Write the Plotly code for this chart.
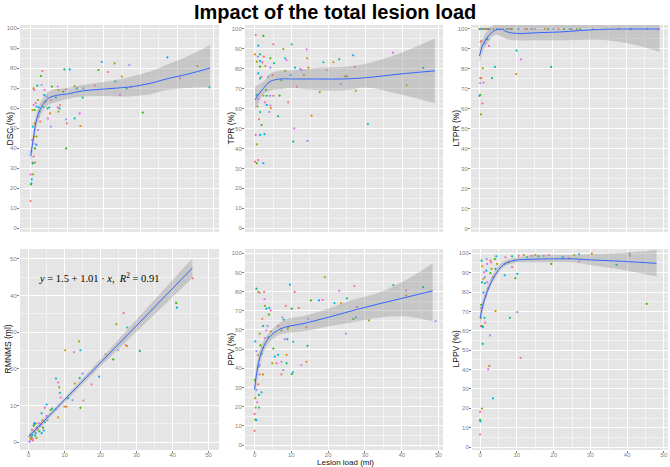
import plotly.graph_objects as go

TITLE = "Impact of the total lesion load"
X_TITLE = "Lesion load (ml)"
FORMULA = "<i>y</i> = 1.5 + 1.01 · <i>x</i>,  <i>R</i><sup>2</sup> = 0.91"
PALETTE = ["#F8766D", "#D89000", "#A3A500", "#39B600", "#00BF7D",
           "#00BFC4", "#00B0F6", "#9590FF", "#E76BF3", "#FF62BC"]

# ---------------- DSC ----------------
dsc_pts = [(0.0,13.5),(0.1,21.8),(0.3,24.3),(0.0,26.8),(0.7,26.8),(0.2,22.3),(0.5,32.7),(1.2,32.7),
           (0.6,32.3),(0.2,38.2),(0.8,35.7),(1.2,39.8),(1.6,41.5),(0.4,44),(1.6,45.7),(0.6,50.7),
           (2.0,49),(1.1,52.3),(2.5,58.2),(2.2,55.7),(2.6,53.2),(1.1,59),(1.6,60.7),(0.8,61.5),
           (2.0,64),(2.2,60.3),(1.0,69),(0.8,69.8),(1.8,71.2),(3.0,71.5),(3.2,78.5),(2.8,76),
           (3.7,66.5),(3.8,69),(4.1,63.2),(4.6,59.8),(4.7,54.8),(5.3,57.3),(5.1,60.3),(5.5,50.7),
           (5.6,64),(5.8,70.7),(6.9,65.3),(7.4,60.3),(7.6,58.2),(7.9,59.8),(7.4,70.7),(7.6,69),
           (9.2,79.3),(9.7,54.3),(9.9,52.3),(9.7,39.8),(10.7,79.3),(9.6,69.3),(12.0,71),(12.0,54.8),
           (13.4,57.3),(13.6,51),(14.2,65.2),(14.4,69.8),(17.5,71.2),(18.5,79),(19.4,83),(21.2,78),
           (22.9,82.3),(23.1,73.2),(24.4,66.5),(24.9,75.7),(26.2,69.8),(26.9,81.5),(27.3,70.3),
           (30.6,57.7),(37.3,85.3),(40.8,74.8),(45.5,81),(48.8,70.3),(1.3,42),(0.9,45.7),(3.5,60.5),
           (4.4,65.7),(8.0,61.5),(8.9,68.2),(12.6,69.8),(1.4,62.5),(0.5,59)]
dsc_fit_x = [0, 0.7, 1.6, 3, 4.8, 7, 10, 14, 20, 27, 33, 37, 43, 49]
dsc_fit = [36, 44, 54, 60.7, 64.8, 66.3, 67, 68.5, 69.5, 70.5, 72.5, 74.5, 77, 80]
dsc_lo = [32, 41, 50.5, 57.5, 61.5, 63, 64.5, 65.7, 66, 65.8, 67, 69, 70, 70.5]
dsc_hi = [40, 47, 57.5, 64, 68, 69.6, 70, 71.5, 73, 75.5, 78.5, 81.5, 86, 91.5]

# ---------------- TPR ----------------
tpr_pts = [(0.2,97),(2.3,96.5),(0.9,91.6),(5.0,92.3),(7.7,89.9),(10.0,92.3),(14.1,89.8),(0.0,87.3),
           (1.4,87.3),(0.8,86.1),(2.4,86.1),(4.2,85.3),(1.4,83.9),(2.0,83.2),(0.5,83.6),(8.2,85.3),
           (8.6,84.4),(14.2,85.3),(5.2,82.8),(4.2,80.6),(2.8,81.4),(1.4,81.1),(0.9,77.7),(1.8,76),
           (8.2,78.9),(10.9,80.6),(12.3,80),(14.5,80.6),(1.4,75.2),(3.6,76),(4.8,76.8),(7.2,74.3),
           (9.7,76.8),(11.4,71),(13.3,76.9),(0.5,66.9),(0.9,64.9),(2.3,66.6),(3.2,66.5),(4.1,66.5),
           (5.0,66.5),(6.7,66.6),(3.2,61.9),(2.7,63.2),(0.7,61.1),(1.4,58.3),(4.2,61.6),(4.3,60.3),
           (6.3,56.2),(3.9,58.3),(1.1,54.7),(1.8,51.8),(1.4,46.8),(0.2,46.8),(0.5,42.1),(2.6,47.2),
           (10.7,50.1),(15.4,56.5),(10.4,43.5),(14.3,43.8),(0.0,33.4),(0.5,32.6),(2.3,32.6),(0.9,34.2),
           (17.6,68.3),(18.6,83.3),(19.5,79.4),(21.3,83.3),(22.9,84.8),(23.3,72.3),(24.4,76.2),
           (24.9,76.2),(26.7,86.8),(27.1,81),(27.4,69),(30.7,52.3),(37.5,88.1),(41.2,71.7),(45.7,80.5),
           (12.7,79.4),(9.0,63.2),(3.0,69.5)]
tpr_fit_x = [0, 0.9, 2.3, 4.1, 6.8, 10, 17.6, 24, 30.4, 39.4, 48.9]
tpr_fit = [64.4, 66.9, 70.2, 73.6, 74.9, 74.9, 74.9, 74.9, 75.6, 77.4, 79]
tpr_lo = [59.4, 62.5, 67.2, 69, 69.7, 70.2, 69.2, 69.2, 70.5, 67.2, 62.7]
tpr_hi = [70.7, 72, 73.5, 77.5, 79, 79.3, 80.5, 81, 82.7, 87.8, 95.3]

# ---------------- LTPR ----------------
ltpr_full_x = [0, 0.3, 0.6, 0.9, 1.1, 1.3, 1.5, 1.8, 2.0, 2.2, 2.4, 2.7, 2.9, 3.8, 4.7, 5.6, 6.5,
               7.4, 7.9, 8.3, 8.8, 10.6, 12.4, 13.0, 14.2, 15.1, 17.8, 18.7, 20.1, 21.5, 23.0, 24.6,
               25.1, 26.5, 27.4, 30.9, 37.9, 41.2, 45.7, 48.7]
ltpr_full_y = [100] * len(ltpr_full_x)
ltpr_pts = [(0.5,94),(1.8,94.6),(2.2,94.9),(2.6,91.5),(0.9,80.3),(4.2,81),(0.2,75.4),(0.5,75.4),
            (3.4,75.4),(0.2,72.9),(1.1,73.2),(0.2,67),(0.0,66.5),(0.8,62.7),(0.4,57.2),(10.1,89.2),
            (11.3,84.8),(10.0,77.4),(19.5,81),(1.5,92.8),(0.3,93.5)]
ltpr_fit_x = [0, 0.9, 2.3, 4.1, 5.9, 7.3, 10, 16.4, 21.8, 27.3, 34.5, 43.6, 49]
ltpr_fit = [86.5, 92, 96.2, 99.2, 99.9, 98.7, 97.8, 98.2, 98.5, 99.2, 99.9, 100, 100]
ltpr_lo = [82.8, 88.7, 93, 97, 96.5, 95, 94.3, 94.3, 94.3, 94.5, 94.3, 91.5, 88.5]
ltpr_hi = [91, 94.9, 99.6, 102.1, 103, 103, 103, 103, 103, 103, 104, 106, 110]

# ---------------- RMNMS ----------------
rm_pts = [(45.6,44.7),(41.0,38),(41.2,36.7),(26.4,35.2),(24.4,32.2),(27.4,31.3),(27.0,26.5),
          (27.3,26.2),(30.9,24.9),(24.9,25.1),(21.4,24.0),(23.5,22.6),(19.6,17.9),(17.5,15.8),
          (14.0,27.5),(14.4,25.1),(12.6,24.6),(10.1,25.1),(14.2,17.5),(15.0,18.7),(15.2,11.4),
          (14.4,9.4),(7.6,17.4),(8.2,16.3),(8.5,15.0),(8.7,13.5),(8.9,12.2),(8.2,6.8),(11.0,12.0),
          (12.2,11.5),(9.9,9.7),(6.1,8.8),(5.0,10.3),(4.5,9.4),(10.5,9.7),(3.6,7.9),(5.0,7.2),
          (2.0,5.1),(1.5,5.0),(0.3,0.3),(0.5,1),(0.8,1.5),(1,2),(1.2,0.5),(1.5,3),(2,2.5),(2.3,4),
          (2.5,3.5),(3,3),(3.2,4.5),(3.5,5),(4,4),(4.2,3.2),(1.1,1),(0.7,0.8),(1.8,1.8),(2.8,5.2),
          (3.8,6),(4.5,5.5),(5.2,6),(0.4,2),(1.4,4.5),(1.7,5.2),(0.9,3.4),(2.2,1.2),(3.6,2.5),
          (0.2,0.1),(12.8,16.0),(6.5,9.2),(7.5,9.0)]
rm_fit_x = [0, 45.5]
rm_fit = [1.5, 47.5]
rm_band_x = [0, 8, 20, 30, 40, 45.5]
rm_lo = [0.7, 8.9, 20.7, 30.1, 39.6, 44.8]
rm_hi = [2.3, 10.1, 22.7, 33.5, 44.2, 50.2]

# ---------------- PPV ----------------
ppv_pts = [(0,7.4),(0.2,13.2),(0.5,13),(0,16.2),(0.3,19.5),(1.2,19.5),(0.7,22.3),(0.2,24.4),
           (1.2,26.1),(0.5,28.7),(1.0,31.6),(0.1,33.9),(1.9,27.5),(1.4,36.8),(2.3,36.8),(1.1,40.8),
           (1.4,41.7),(0.9,46.9),(1.9,47.7),(0.5,49),(2.3,50.7),(1.6,52),(0.2,54),(2.8,55.8),
           (1.4,58),(3.7,56.3),(3.2,59.8),(4.4,59.3),(2.3,62),(3.5,62),(2.1,65.8),(3.9,68),
           (3.2,71.1),(4.4,70.2),(2.8,72.5),(4.0,71.5),(2.7,76),(1.0,79.8),(0.5,81.5),(1.4,79.4),
           (2.6,79.8),(5.1,50.3),(5.5,46.1),(6.0,42.6),(4.8,42.6),(6.4,47),(7.3,43.4),(8.7,47),
           (8.7,42.6),(7.8,39.1),(7.3,36.8),(10.1,37),(10.4,37.9),(6.4,62),(7.3,59.8),(8.9,55.2),
           (8.2,55.2),(9.1,61.3),(7.9,65.3),(7.6,66.5),(8.5,72.5),(10.1,71.1),(9.6,83.6),
           (10.9,79.8),(9.0,60.5),(10.5,53.8),(12.7,41.7),(14.1,43.4),(14.4,51.7),(14.6,65.8),
           (14.1,61.3),(15.3,75.4),(17.5,75.4),(18.5,75.7),(19.1,87.6),(21.7,74),(23.0,80.4),
           (23.5,74),(25.1,76.5),(24.8,58.1),(27.1,82.9),(26.8,65.7),(27.5,66.6),(27.8,71.9),
           (31.1,65),(37.7,83.4),(41.2,80.6),(41.2,77.9),(45.8,82.3),(49.2,64.6),(12.0,71.5)]
ppv_fit_x = [0, 0.6, 1.8, 3.6, 5.9, 8.6, 13.2, 20.4, 26.7, 34, 41.2, 48.4]
ppv_fit = [29, 37.9, 48.1, 55.2, 59.4, 61.6, 63.3, 66.8, 70.1, 73.7, 77, 80.4]
ppv_lo = [22.3, 32, 44.6, 52.4, 56.7, 58.4, 59.3, 61.9, 64, 66.5, 67, 64.5]
ppv_hi = [34.2, 42.5, 51.6, 57.6, 62.3, 65.7, 67.1, 71.4, 75.7, 79.6, 86.2, 94.8]

# ---------------- LPPV ----------------
lppv_pts = [(0,6.5),(0,14),(0.1,13.2),(0,18.2),(0.5,19.9),(3.5,25.1),(2.2,40.1),(2.5,41.9),
            (0.7,53.3),(2.7,57.6),(0.2,62.4),(0.5,62.4),(0.8,61.9),(1.4,64.2),(0.2,66.7),
            (1.2,66.7),(0.3,71.7),(4.2,70.1),(8.1,66.7),(10.1,69.6),(11.0,46),(0.3,73.4),(0.9,79.7),
            (1.6,78),(2.2,81.9),(1.3,84.5),(1.9,85),(0.9,86.8),(0.5,85),(1.3,87.7),(3.5,87.7),
            (2.8,89.8),(1.7,91),(1.1,90.2),(3.1,91.9),(4.2,91.9),(1.9,94.5),(0.6,93.3),(0.4,96.2),
            (1.8,97),(2.8,96.2),(4.0,97),(4.4,98.4),(3.0,95.3),(4.6,94.5),(6.7,94.5),(6.9,97.9),
            (7.8,95.3),(8.7,98.4),(9.1,96.2),(8.7,92.8),(9.6,87.2),(10.1,89.4),(10.5,98.7),
            (11.9,99.1),(12.8,97.9),(14.0,98.7),(15.0,99.1),(15.9,98.4),(17.3,98.7),(18.7,99.1),
            (19.4,94.5),(6.7,88.6),(24.2,97.4),(25.6,99.1),(26.9,99.5),(27.0,95.8),(30.4,99.8),
            (37.1,94),(40.7,99.8),(40.7,98.7),(45.3,73.9),(22.5,98.0)]
lppv_fit_x = [0, 0.9, 2.3, 4.1, 6.3, 9.1, 14.5, 25.4, 29.9, 39, 48]
lppv_fit = [66.6, 74.3, 82, 88.8, 94, 96.2, 96.9, 97.1, 96.6, 95.8, 94.8]
lppv_lo = [62.3, 71, 80.3, 87.1, 92.8, 94.8, 95.2, 95.2, 94, 91.4, 88]
lppv_hi = [71.7, 77.5, 84.6, 91.4, 95.7, 97.4, 99.1, 99.1, 99.6, 100.3, 101.7]

W, H = 670, 467


def fx_(px):
    return px / W


def fy_(py):
    return 1 - py / H


panels = [
    dict(title="DSC (%)", pts=dsc_pts, fx=dsc_fit_x, fy=dsc_fit, bx=dsc_fit_x, lo=dsc_lo, hi=dsc_hi,
         dom_x=(20, 219), dom_y=(25, 232), xr=[-2.9, 51.4], yr=[-2, 101.5], xlabels=False,
         tx=9, spline=True),
    dict(title="TPR (%)", pts=tpr_pts, fx=tpr_fit_x, fy=tpr_fit, bx=tpr_fit_x, lo=tpr_lo, hi=tpr_hi,
         dom_x=(245, 443), dom_y=(25, 232), xr=[-2.7, 51.1], yr=[-1.9, 102], xlabels=False,
         tx=230, spline=True),
    dict(title="LTPR (%)", pts=ltpr_pts + list(zip(ltpr_full_x, ltpr_full_y)), fx=ltpr_fit_x,
         fy=ltpr_fit, bx=ltpr_fit_x, lo=ltpr_lo, hi=ltpr_hi,
         dom_x=(471, 668), dom_y=(25, 232), xr=[-2.3, 51.3], yr=[-1.7, 102], xlabels=False,
         tx=455, spline=True),
    dict(title="RMNMS (ml)", pts=rm_pts, fx=rm_fit_x, fy=rm_fit, bx=rm_band_x, lo=rm_lo, hi=rm_hi,
         dom_x=(20, 219), dom_y=(249, 450), xr=[-2.4, 52.9], yr=[-2.1, 52.7], xlabels=True,
         tx=7, spline=False),
    dict(title="PPV (%)", pts=ppv_pts, fx=ppv_fit_x, fy=ppv_fit, bx=ppv_fit_x, lo=ppv_lo, hi=ppv_hi,
         dom_x=(245, 443), dom_y=(249, 450), xr=[-2.6, 51.2], yr=[-2.6, 102.2], xlabels=True,
         tx=230, spline=True),
    dict(title="LPPV (%)", pts=lppv_pts, fx=lppv_fit_x, fy=lppv_fit, bx=lppv_fit_x, lo=lppv_lo,
         hi=lppv_hi, dom_x=(472, 668), dom_y=(249, 450), xr=[-2.2, 51.1], yr=[-1.5, 102.2],
         xlabels=True, tx=455, spline=True),
]

fig = go.Figure()
annotations = []
tick_font = dict(family="Liberation Sans, Arial, sans-serif", size=6, color="#7F7F7F")
title_font = dict(family="Liberation Sans, Arial, sans-serif", size=8.5, color="#111111")
minor = dict(showgrid=True, gridcolor="#F2F2F2", gridwidth=0.5, dtick=5, tick0=0)

for i, p in enumerate(panels):
    n = i + 1
    xa = "x" if n == 1 else f"x{n}"
    ya = "y" if n == 1 else f"y{n}"
    px = [a for a, b in p["pts"]]
    py = [b for a, b in p["pts"]]
    cols = [PALETTE[(k * 3) % len(PALETTE)] for k in range(len(px))]
    fig.add_trace(go.Scatter(x=px, y=py, mode="markers", xaxis=xa, yaxis=ya,
                             marker=dict(size=2.2, color=cols, line=dict(width=0)),
                             showlegend=False, hoverinfo="skip"))
    shape = "spline" if p["spline"] else "linear"
    fig.add_trace(go.Scatter(x=p["bx"], y=p["lo"], mode="lines", xaxis=xa, yaxis=ya,
                             line=dict(width=0, shape=shape), showlegend=False, hoverinfo="skip"))
    fig.add_trace(go.Scatter(x=p["bx"], y=p["hi"], mode="lines", xaxis=xa, yaxis=ya,
                             line=dict(width=0, shape=shape), fill="tonexty",
                             fillcolor="rgba(153,153,153,0.4)", showlegend=False, hoverinfo="skip"))
    fig.add_trace(go.Scatter(x=p["fx"], y=p["fy"], mode="lines", xaxis=xa, yaxis=ya,
                             line=dict(width=1, color="#3366FF", shape=shape),
                             showlegend=False, hoverinfo="skip"))

    x0, x1 = p["dom_x"]
    y0, y1 = p["dom_y"]
    common = dict(showline=False, zeroline=False, showgrid=True, gridcolor="#FFFFFF", gridwidth=1,
                  ticklen=2, tickwidth=0.6, tickcolor="#7F7F7F", tickfont=tick_font, minor=minor,
                  tickmode="linear", tick0=0, dtick=10)
    xkey = "xaxis" if n == 1 else f"xaxis{n}"
    ykey = "yaxis" if n == 1 else f"yaxis{n}"
    fig.update_layout({
        xkey: dict(domain=[fx_(x0), fx_(x1)], range=p["xr"], anchor=ya,
                   showticklabels=p["xlabels"], ticks="outside" if p["xlabels"] else "",
                   ticklabelstandoff=-3, **common),
        ykey: dict(domain=[fy_(y1), fy_(y0)], range=p["yr"], anchor=xa, ticks="outside",
                   ticklabelstandoff=-1, **common),
    })

    annotations.append(dict(text=p["title"], x=fx_(p["tx"]), y=fy_((y0 + y1) / 2),
                            xref="paper", yref="paper", showarrow=False, textangle=-90,
                            font=title_font, xanchor="center", yanchor="middle"))

annotations.append(dict(text=TITLE, x=fx_(335), y=fy_(12), xref="paper", yref="paper",
                        showarrow=False, xanchor="center", yanchor="middle",
                        font=dict(family="Liberation Sans, Arial, sans-serif", size=20,
                                  color="#000000", weight="bold")))
annotations.append(dict(text=X_TITLE, x=fx_(345), y=fy_(462), xref="paper", yref="paper",
                        showarrow=False, xanchor="center", yanchor="middle", borderpad=0,
                        font=dict(family="Liberation Sans, Arial, sans-serif", size=8,
                                  color="#111111")))
annotations.append(dict(text=FORMULA, x=2.2, y=45, xref="x4", yref="y4", showarrow=False,
                        xanchor="left", yanchor="middle",
                        font=dict(family="Liberation Serif, Times New Roman, serif", size=10.5,
                                  color="#000000")))

fig.update_layout(width=W, height=H, margin=dict(l=0, r=0, t=0, b=0),
                  paper_bgcolor="#FFFFFF", plot_bgcolor="#E5E5E5",
                  annotations=annotations, showlegend=False)

# the page's default body margin would push the 670x467 figure 8px down/right
fig.write_html("out.html", config={"displayModeBar": False},
               post_script="document.body.style.margin='0';")
